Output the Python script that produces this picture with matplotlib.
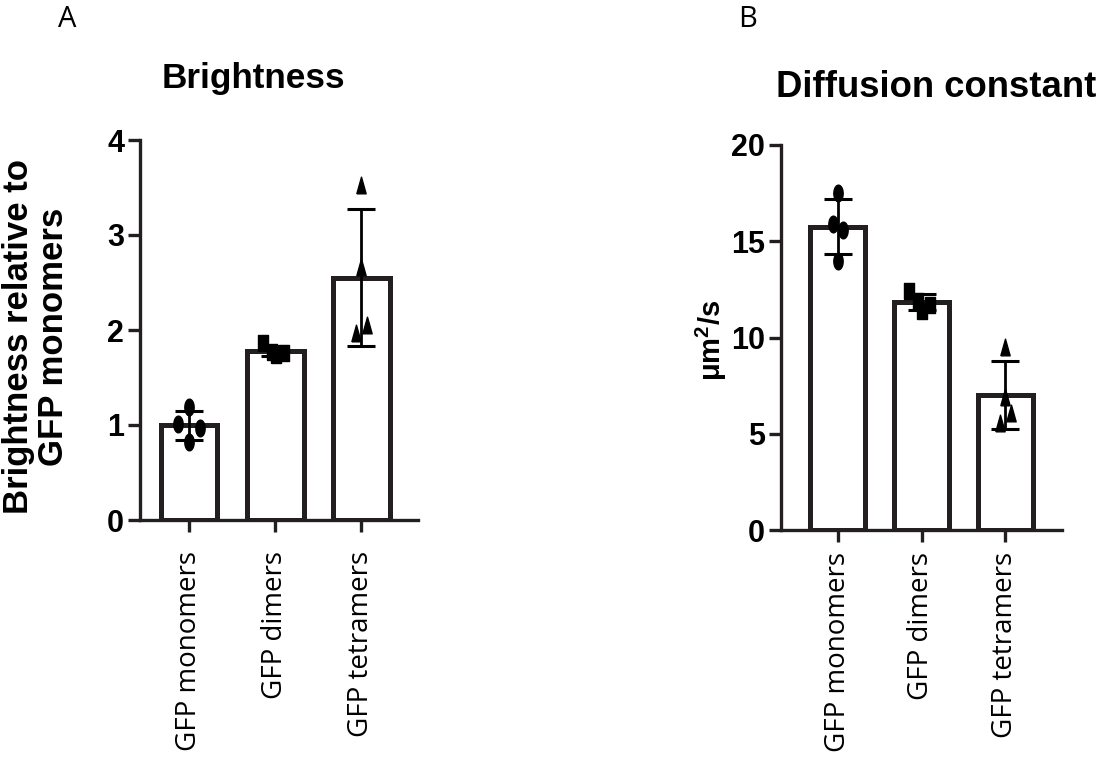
import numpy as np
import matplotlib
matplotlib.use('Agg')
import matplotlib.pyplot as plt

W, H = 1107, 761

groups = ['GFP monomers', 'GFP dimers', 'GFP tetramers']

# replicate values
bright_mono = [1.19, 1.01, 0.97, 0.82]
bright_dim = [1.86, 1.77, 1.74, 1.76]
bright_tet = [3.53, 2.66, 1.97, 2.05]

diff_mono = [17.5, 15.9, 15.6, 14.0]
diff_dim = [12.4, 11.9, 11.4, 11.7]
diff_tet = [9.5, 6.9, 6.1, 5.55]

# horizontal scatter of replicate dots (pixels)
offs_a = [[0, -11, 11, 0], [-12, -3, 1, 9], [0, 0, -5, 6]]
offs_b = [[0, -5, 5, 0], [-12, -3, 0, 8], [0, 0, 6, -5]]

# tall-ish markers as in the source image
ell = [(0.28 * np.cos(t), 0.5 * np.sin(t)) for t in np.linspace(0, 2 * np.pi, 40)]
sq = [(-0.32, -0.5), (0.32, -0.5), (0.32, 0.5), (-0.32, 0.5), (-0.32, -0.5)]
tri = [(-0.28, -0.5), (0.28, -0.5), (0.0, 0.5), (-0.28, -0.5)]
markers = [ell, sq, tri]

DARK = '#231f20'
TICKFONT = 'Open Sans'
NUMFONT = 'Liberation Sans'

plt.rcParams['mathtext.fontset'] = 'custom'
plt.rcParams['mathtext.rm'] = 'Liberation Sans:bold'
plt.rcParams['mathtext.bf'] = 'Liberation Sans:bold'


def fig_rect(l, r, t, b):
    return [l / W, 1 - b / H, (r - l) / W, (b - t) / H]


def draw_panel(ax, data, offs, px_per_unit, ylim, yticks, xpad):
    x = np.arange(len(data))
    means = [np.mean(d) for d in data]
    sds = [np.std(d, ddof=1) for d in data]
    ax.bar(x, means, width=0.66, color='white', edgecolor=DARK,
           linewidth=3.6, zorder=2)
    ax.errorbar(x, means, yerr=sds, fmt='none', ecolor='black',
                elinewidth=2.0, capsize=10, capthick=2.2, zorder=3)
    for i, d in enumerate(data):
        xs = i + np.array(offs[i]) / px_per_unit
        ax.plot(xs, d, linestyle='none', marker=markers[i], markersize=12,
                color='black', zorder=4)
    ax.set_ylim(*ylim)
    ax.set_yticks(yticks)
    ax.set_xticks(x)
    ax.set_xticklabels(groups, rotation=90, fontsize=20, family=TICKFONT,
                       va='top')
    for lab in ax.get_yticklabels():
        lab.set_fontsize(22)
        lab.set_fontweight('bold')
        lab.set_family(NUMFONT)
    for s in ['top', 'right']:
        ax.spines[s].set_visible(False)
    for s in ['left', 'bottom']:
        ax.spines[s].set_linewidth(2.4)
        ax.spines[s].set_color(DARK)
    ax.tick_params(axis='both', direction='out', length=8.5, width=2.4,
                   color=DARK)
    ax.tick_params(axis='x', pad=xpad)
    ax.tick_params(axis='y', pad=3)


fig = plt.figure(figsize=(W / 100, H / 100), dpi=100)

axA = fig.add_axes(fig_rect(140, 418, 140, 520))
axA.set_xlim(-0.57, 2.66)
draw_panel(axA, [bright_mono, bright_dim, bright_tet], offs_a, 86,
           (0, 4), [0, 1, 2, 3, 4], 14)

axB = fig.add_axes(fig_rect(781, 1062, 145, 530))
axB.set_xlim(-0.68, 2.68)
draw_panel(axB, [diff_mono, diff_dim, diff_tet], offs_b, 83.5,
           (0, 20), [0, 5, 10, 15, 20], 7)

# titles and labels
fig.text(253 / W, 1 - 88 / H, 'Brightness', ha='center', va='baseline',
         fontsize=25.3, fontweight='bold', family=NUMFONT)
fig.text(776 / W, 1 - 97 / H, 'Diffusion constant', ha='left', va='baseline',
         fontsize=26.3, fontweight='bold', family=NUMFONT)
fig.text(36 / W, 1 - 337 / H, 'Brightness relative to\nGFP monomers',
         rotation=90, ha='center', va='center', multialignment='center',
         fontsize=25, fontweight='bold', family=NUMFONT, linespacing=1.08)
fig.text(711 / W, 1 - 340 / H, r'μm$^{2}$/s', rotation=90, ha='center',
         va='center', fontsize=21, fontweight='bold', family=NUMFONT)
fig.text(58 / W, 1 - 5 / H, 'A', ha='left', va='top', fontsize=21,
         family=TICKFONT)
fig.text(738 / W, 1 - 5 / H, 'B', ha='left', va='top', fontsize=21,
         family=TICKFONT)

fig.savefig('out.png', dpi=100)
